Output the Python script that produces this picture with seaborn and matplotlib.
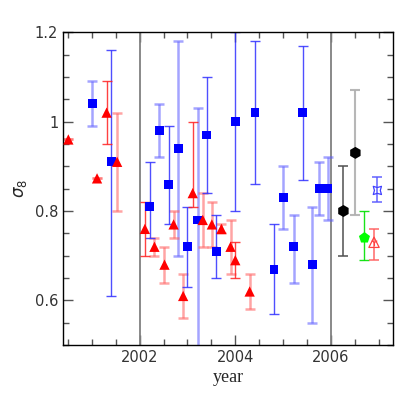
import numpy as np
import pandas as pd
import matplotlib
matplotlib.use('Agg')
import matplotlib.pyplot as plt
from matplotlib.ticker import MultipleLocator, FixedLocator, FixedFormatter
import seaborn as sns

# blue squares with thin error bars
bs_year = [2001.41, 2002.21, 2002.61, 2003.00, 2003.40, 2003.60, 2004.00, 2004.41, 2004.81, 2005.41]
bs_s8 = [0.91, 0.81, 0.86, 0.72, 0.97, 0.71, 1.00, 1.02, 0.67, 1.02]
bs_lo = [0.61, 0.74, 0.77, 0.63, 0.84, 0.65, 0.80, 0.86, 0.57, 0.87]
bs_hi = [1.16, 0.91, 0.99, 0.81, 1.10, 0.79, 1.20, 1.18, 0.77, 1.17]

# blue squares with broad (faint) error bars
bb_year = [2001.01, 2002.41, 2002.81, 2003.21, 2005.00, 2005.22, 2005.61, 2005.75, 2005.93]
bb_s8 = [1.04, 0.98, 0.94, 0.78, 0.83, 0.72, 0.68, 0.85, 0.85]
bb_lo = [0.99, 0.92, 0.70, 0.40, 0.76, 0.64, 0.55, 0.79, 0.78]
bb_hi = [1.09, 1.04, 1.18, 1.03, 0.90, 0.79, 0.81, 0.91, 0.92]

# red triangles with thin error bars
rs_year = [2001.31, 2002.11, 2003.11, 2004.00]
rs_s8 = [1.02, 0.76, 0.84, 0.69]
rs_lo = [0.95, 0.70, 0.81, 0.65]
rs_hi = [1.09, 0.82, 1.00, 0.73]

# red triangles with broad (faint) error bars
rb_year = [2000.51, 2001.11, 2001.53, 2002.31, 2002.52, 2002.71, 2002.91,
           2003.32, 2003.51, 2003.71, 2003.90, 2004.30]
rb_s8 = [0.96, 0.873, 0.91, 0.72, 0.68, 0.77, 0.61, 0.78, 0.77, 0.76, 0.72, 0.62]
rb_lo = [0.96, 0.873, 0.80, 0.70, 0.64, 0.74, 0.56, 0.72, 0.72, 0.75, 0.66, 0.58]
rb_hi = [0.96, 0.873, 1.02, 0.74, 0.72, 0.80, 0.66, 0.84, 0.82, 0.77, 0.78, 0.66]

# 2006 results
bk_year = [2006.26, 2006.51]
bk_s8 = [0.80, 0.93]
bk_lo = [0.70, 0.79]
bk_hi = [0.90, 1.07]

gr_year = [2006.70]
gr_s8 = [0.74]
gr_lo = [0.69]
gr_hi = [0.80]

ro_year = [2006.90]
ro_s8 = [0.73]
ro_lo = [0.69]
ro_hi = [0.76]

bo_year = [2006.97]
bo_s8 = [0.846]
bo_lo = [0.82]
bo_hi = [0.876]

sns.set_theme(style='ticks')
plt.rcParams['font.family'] = ['DejaVu Sans']
plt.rcParams['xtick.direction'] = 'in'
plt.rcParams['ytick.direction'] = 'in'

fig = plt.figure(figsize=(4.07, 4.07), dpi=100)
ax = fig.add_axes([0.155, 0.152, 0.811, 0.769])


def err(ax, x, y, lo, hi, color, lw, alpha, cap=3.5):
    y = np.array(y)
    yerr = [y - np.array(lo), np.array(hi) - y]
    ax.errorbar(x, y, yerr=yerr, fmt='none', ecolor=color, elinewidth=lw,
                capsize=cap, capthick=lw, alpha=alpha, zorder=2)


ax.axvline(2002, color='#808080', lw=1.3, zorder=1)
ax.axvline(2006, color='#808080', lw=1.3, zorder=1)

err(ax, bb_year, bb_s8, bb_lo, bb_hi, '#5a5aff', 1.8, 0.55)
err(ax, rb_year, rb_s8, rb_lo, rb_hi, '#ff5a5a', 1.8, 0.55)
err(ax, bs_year, bs_s8, bs_lo, bs_hi, '#3030ff', 1.0, 0.85)
err(ax, rs_year, rs_s8, rs_lo, rs_hi, '#ff2020', 1.0, 0.85)
err(ax, bk_year[:1], bk_s8[:1], bk_lo[:1], bk_hi[:1], '#505050', 1.3, 0.85)
err(ax, bk_year[1:], bk_s8[1:], bk_lo[1:], bk_hi[1:], '#b0b0b0', 1.5, 0.9)
err(ax, gr_year, gr_s8, gr_lo, gr_hi, '#00e000', 1.0, 0.9)
err(ax, ro_year, ro_s8, ro_lo, ro_hi, '#ff6060', 1.3, 0.8)
err(ax, bo_year, bo_s8, bo_lo, bo_hi, '#5a5aff', 1.3, 0.8)

sns.scatterplot(x=bs_year + bb_year, y=bs_s8 + bb_s8, marker='s', color='#0000ff',
                s=40, edgecolor='none', ax=ax, zorder=3)
sns.scatterplot(x=rs_year + rb_year, y=rs_s8 + rb_s8, marker='^', color='#ff0000',
                s=55, edgecolor='none', ax=ax, zorder=3)
sns.scatterplot(x=bk_year, y=bk_s8, marker='h', color='black', s=75,
                edgecolor='none', ax=ax, zorder=3)
sns.scatterplot(x=gr_year, y=gr_s8, marker='p', color='#00ff00', s=70,
                edgecolor='none', ax=ax, zorder=3)
ax.scatter(ro_year, ro_s8, marker='^', s=55, facecolor='none', edgecolor='#ff4040',
           linewidth=0.9, zorder=3)
ax.scatter(ro_year, ro_s8, marker='1', s=25, color='#ff4040', linewidth=0.8, zorder=3)
ax.scatter(bo_year, bo_s8, marker=(4, 1, 45), s=70, facecolor='none',
           edgecolor='#4040ff', linewidth=0.9, zorder=3)

ax.set_xlim(2000.4, 2007.3)
ax.set_ylim(0.5, 1.2)
ax.xaxis.set_major_locator(FixedLocator([2002, 2004, 2006]))
ax.xaxis.set_minor_locator(MultipleLocator(0.5))
ax.yaxis.set_major_locator(FixedLocator([0.6, 0.8, 1.0, 1.2]))
ax.yaxis.set_major_formatter(FixedFormatter(['0.6', '0.8', '1', '1.2']))
ax.yaxis.set_minor_locator(MultipleLocator(0.05))
ax.tick_params(which='both', top=True, right=True, direction='in',
               color='#555555', width=1.0, labelsize=10.5, labelcolor='#333333')
ax.tick_params(which='major', length=7)
ax.tick_params(which='minor', length=4)
for sp in ax.spines.values():
    sp.set_color('black')
    sp.set_linewidth(1.0)

ax.set_xlabel('year', family='Liberation Serif', fontsize=13, labelpad=3)
ax.set_ylabel(r'$\sigma_8$', fontsize=12, labelpad=4)

fig.savefig('out.png', dpi=100)
